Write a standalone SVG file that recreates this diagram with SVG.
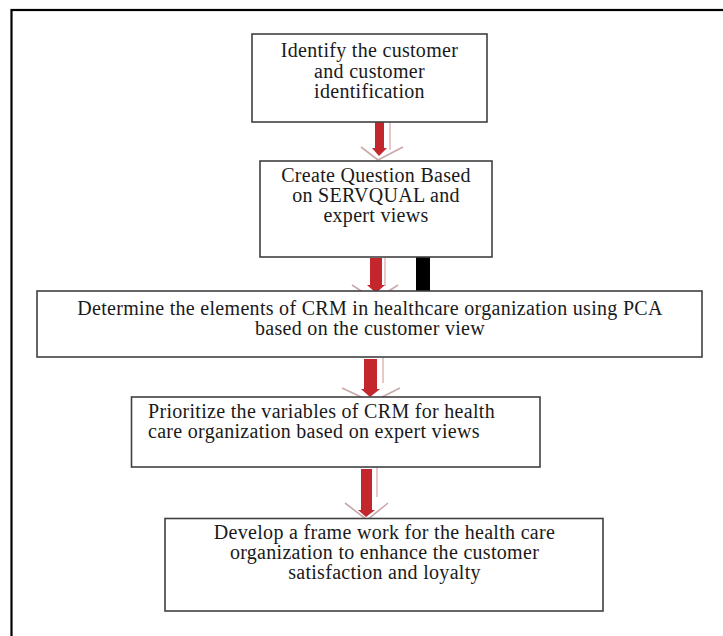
<svg xmlns="http://www.w3.org/2000/svg" width="723" height="636" viewBox="0 0 723 636">
  <style>
    .box { fill: #ffffff; stroke: #404040; stroke-width: 1.6; }
    .t { font-family: "Liberation Serif", "Times New Roman", serif; font-size: 20px; letter-spacing: 0.3px; fill: #1a1a1a; }
    .c { text-anchor: middle; }
    .shaft { fill: #c3262c; }
    .chev { fill: none; stroke: #c9a9a9; stroke-width: 1.6; }
    .shadow { stroke: #e2b6b8; stroke-width: 1.5; }
  </style>
  <rect width="723" height="636" fill="#ffffff"/>
  <rect id="frame" x="11.5" y="10" width="800" height="700" fill="none" stroke="#000000" stroke-width="2.2"/>

  <g id="connectors">
    <g id="arrow1">
      <line class="shadow" x1="390" y1="113" x2="390" y2="150"/>
      <polyline class="chev" points="361,147 378,160 403,147"/>
      <rect class="shaft" x="375" y="115" width="9" height="34"/>
      <polygon class="shaft" points="372,148 387,148 379,156"/>
    </g>
    <g id="arrow2">
      <line class="shadow" x1="385" y1="258" x2="385" y2="286"/>
      <polyline class="chev" points="352,285 375,300 398,285"/>
      <rect class="shaft" x="370" y="258" width="12" height="28"/>
      <polygon class="shaft" points="367,285 385,285 376,293"/>
    </g>
    <rect id="bar" x="416" y="257" width="14" height="35" fill="#000000"/>
    <g id="arrow3">
      <line class="shadow" x1="383" y1="355" x2="383" y2="383"/>
      <polyline class="chev" points="342,388 372,402 400,388"/>
      <rect class="shaft" x="364" y="359" width="13" height="32"/>
      <polygon class="shaft" points="361,389 380,389 370,397"/>
    </g>
    <g id="arrow4">
      <line class="shadow" x1="377" y1="467" x2="377" y2="497"/>
      <polyline class="chev" points="345,503 367,520 388,503"/>
      <rect class="shaft" x="361" y="469" width="11" height="43"/>
      <polygon class="shaft" points="358,510 375,510 366,517"/>
    </g>
  </g>

  <g id="node1">
    <rect class="box" x="252" y="34" width="235" height="88"/>
    <text class="t c" x="369.5" y="57">Identify the customer</text>
    <text class="t c" x="369.5" y="78">and customer</text>
    <text class="t c" x="369.5" y="98">identification</text>
  </g>
  <g id="node2">
    <rect class="box" x="260" y="161" width="232" height="96"/>
    <text class="t c" x="376" y="182">Create Question Based</text>
    <text class="t c" x="376" y="202">on SERVQUAL and</text>
    <text class="t c" x="376" y="222">expert views</text>
  </g>
  <g id="node3">
    <rect class="box" x="37" y="291" width="665" height="66"/>
    <text class="t c" x="370" y="315">Determine the elements of CRM in healthcare organization using PCA</text>
    <text class="t c" x="370" y="335">based on the customer view</text>
  </g>
  <g id="node4">
    <rect class="box" x="131.5" y="397" width="408.5" height="70"/>
    <text class="t" x="148" y="418">Prioritize the variables of CRM for health</text>
    <text class="t" x="148" y="438">care organization based on expert views</text>
  </g>
  <g id="node5">
    <rect class="box" x="165" y="518.5" width="438" height="92.5"/>
    <text class="t c" x="384.5" y="539">Develop a frame work for the health care</text>
    <text class="t c" x="384.5" y="559">organization to enhance the customer</text>
    <text class="t c" x="384.5" y="579">satisfaction and loyalty</text>
  </g>
</svg>
